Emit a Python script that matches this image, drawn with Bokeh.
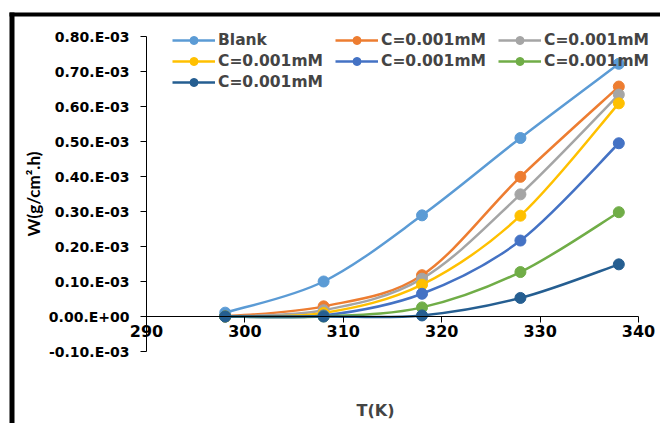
from bokeh.plotting import figure
from bokeh.models import (Range1d, FixedTicker, CustomJSTickFormatter, Legend,
                          LegendItem, Label, BoxAnnotation)
from bokeh.embed import file_html
from bokeh.resources import INLINE

# ---- data (W in units of 1e-3 g/cm2.h) ----
T = [298, 308, 318, 328, 338]
blank = [0.011, 0.100, 0.289, 0.510, 0.722]
c_orange = [0.0, 0.029, 0.118, 0.399, 0.657]
c_gray = [0.0, 0.018, 0.108, 0.349, 0.634]
c_yellow = [0.0, 0.010, 0.091, 0.288, 0.609]
c_blue = [0.0, 0.003, 0.065, 0.217, 0.495]
c_green = [0.0, 0.0, 0.026, 0.127, 0.298]
c_dark = [0.0, 0.0, 0.003, 0.053, 0.149]

series_names = ["Blank", "C=0.001mM", "C=0.001mM", "C=0.001mM",
                "C=0.001mM", "C=0.001mM", "C=0.001mM"]
series_values = [blank, c_orange, c_gray, c_yellow, c_blue, c_green, c_dark]
series_colors = ["#5B9BD5", "#ED7D31", "#A5A5A5", "#FFC000",
                 "#4472C4", "#70AD47", "#255E91"]

x_ticks = [290, 300, 310, 320, 330, 340]
y_ticks = [-0.1, 0.0, 0.1, 0.2, 0.3, 0.4, 0.5, 0.6, 0.7, 0.8]
y_tick_labels = ["-0.10.E-03", "0.00.E+00", "0.10.E-03", "0.20.E-03",
                 "0.30.E-03", "0.40.E-03", "0.50.E-03", "0.60.E-03",
                 "0.70.E-03", "0.80.E-03"]
x_axis_title = "T(K)"
y_axis_title = "W(g/cm².h)"

FONT = "DejaVu Sans"

# ---- layout (pixels) ----
W, H = 660, 423
PLOT_L, PLOT_R, PLOT_T, PLOT_B = 146, 638, 36, 351
x0, x1 = x_ticks[0], x_ticks[-1]
y0, y1 = y_ticks[0], y_ticks[-1]
xs_px = (PLOT_R - PLOT_L) / (x1 - x0)
ys_px = (PLOT_B - PLOT_T) / (y1 - y0)
x_range = Range1d(x0 - PLOT_L / xs_px, x1 + (W - PLOT_R) / xs_px)
y_range = Range1d(y0 - (H - PLOT_B) / ys_px, y1 + PLOT_T / ys_px)


def smooth_segments(xs, ys):
    """Bezier control points (Catmull-Rom style, like spreadsheet smoothing)."""
    n = len(xs)
    out = {k: [] for k in ("x0", "y0", "x1", "y1", "cx0", "cy0", "cx1", "cy1")}
    for i in range(n - 1):
        a = i - 1 if i > 0 else i
        d = i + 2 if i + 2 < n else i + 1
        out["x0"].append(xs[i]); out["y0"].append(ys[i])
        out["x1"].append(xs[i + 1]); out["y1"].append(ys[i + 1])
        out["cx0"].append(xs[i] + (xs[i + 1] - xs[a]) / 6.0)
        out["cy0"].append(ys[i] + (ys[i + 1] - ys[a]) / 6.0)
        out["cx1"].append(xs[i + 1] - (xs[d] - xs[i]) / 6.0)
        out["cy1"].append(ys[i + 1] - (ys[d] - ys[i]) / 6.0)
    return out


p = figure(width=W, height=H, output_backend="svg", toolbar_location=None,
           x_range=x_range, y_range=y_range, min_border=0)
p.outline_line_color = None
p.grid.visible = False
p.background_fill_color = "white"
p.border_fill_color = "white"

# chart-area frame lines (top and left edges of the picture)
p.add_layout(BoxAnnotation(left=9, right=W, top=12, bottom=16,
                           left_units="canvas", right_units="canvas",
                           top_units="canvas", bottom_units="canvas",
                           fill_color="black", fill_alpha=1, line_alpha=0,
                           level="underlay"))
p.add_layout(BoxAnnotation(left=9, right=14, top=12, bottom=H,
                           left_units="canvas", right_units="canvas",
                           top_units="canvas", bottom_units="canvas",
                           fill_color="black", fill_alpha=1, line_alpha=0,
                           level="underlay"))

items = []
for name, vals, col in zip(series_names, series_values, series_colors):
    seg = smooth_segments(T, vals)
    r_line = p.bezier(line_color=col, line_width=2.5, **seg)
    r_pts = p.scatter(T, vals, size=11, color=col)
    items.append(LegendItem(label=name, renderers=[r_line, r_pts]))

# axes
p.xaxis.ticker = FixedTicker(ticks=x_ticks)
p.xaxis.fixed_location = 0
p.xaxis.bounds = (x0, x1)
p.xaxis.minor_tick_line_color = None
p.xaxis.major_tick_in = 0
p.xaxis.major_tick_out = 6
p.xaxis.axis_line_color = "black"
p.xaxis.major_label_text_font = FONT
p.xaxis.major_label_text_font_style = "bold"
p.xaxis.major_label_text_font_size = "16px"
p.xaxis.major_label_text_color = "black"
p.xaxis.major_label_standoff = 2

p.yaxis.ticker = FixedTicker(ticks=y_ticks)
p.yaxis.fixed_location = x0
p.yaxis.bounds = (y0, y1)
p.yaxis.formatter = CustomJSTickFormatter(
    args=dict(yt=y_ticks, yl=y_tick_labels),
    code="""
    let best = 0;
    for (let i = 0; i < yt.length; i++) {
        if (Math.abs(yt[i] - tick) < Math.abs(yt[best] - tick)) best = i;
    }
    return yl[best];
    """)
p.yaxis.minor_tick_line_color = None
p.yaxis.major_tick_in = 0
p.yaxis.major_tick_out = 6
p.yaxis.major_label_text_font = FONT
p.yaxis.major_label_text_font_style = "bold"
p.yaxis.major_label_text_font_size = "14px"
p.yaxis.major_label_text_color = "black"
p.yaxis.major_label_standoff = 11
p.yaxis.axis_label = y_axis_title
p.yaxis.axis_label_text_font = "Lato"
p.yaxis.axis_label_text_font_style = "bold"
p.yaxis.axis_label_text_font_size = "17px"
p.yaxis.axis_label_text_color = "black"
p.yaxis.axis_label_standoff = 2

p.add_layout(Label(x=375, y=H - 410, x_units="screen", y_units="screen",
                   text=x_axis_title, text_align="center",
                   text_baseline="middle", text_font=FONT,
                   text_font_style="bold", text_font_size="16px"))

legend = Legend(items=items, location=(172, H - 92), orientation="horizontal",
                ncols=3, padding=0, margin=0, spacing=1, glyph_width=43,
                glyph_height=20, label_height=20, label_width=116,
                label_standoff=3, label_text_font=FONT,
                label_text_font_style="bold", label_text_font_size="15.5px",
                background_fill_alpha=0, border_line_alpha=0)
p.add_layout(legend, "center")

open("out.html", "w").write(file_html(p, INLINE))
